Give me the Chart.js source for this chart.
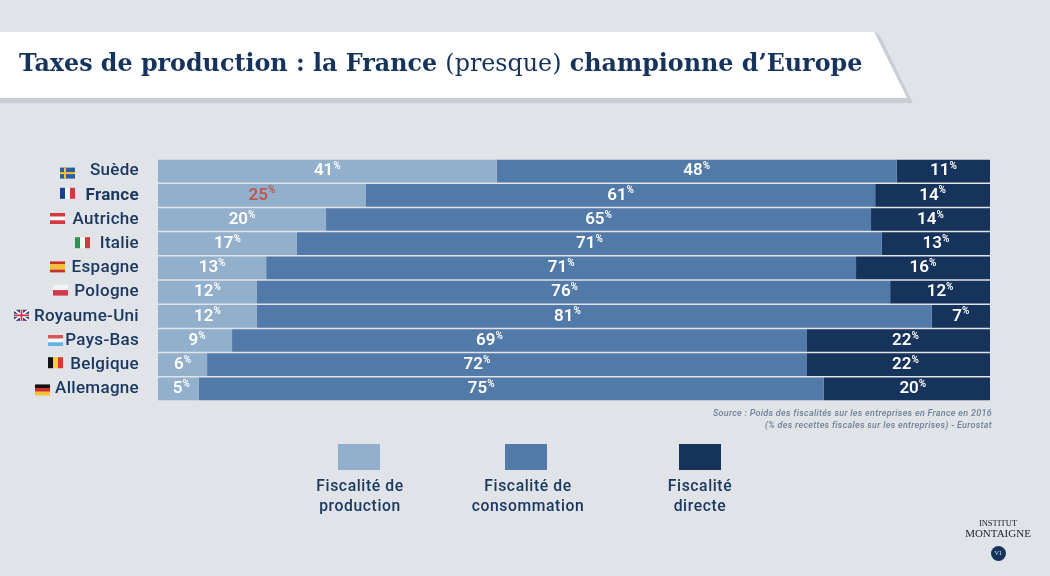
<!DOCTYPE html>
<html lang="fr">
<head>
<meta charset="utf-8">
<title>Taxes de production</title>
<script src="https://cdn.jsdelivr.net/npm/chart.js@4"></script>
<style>
  html, body { margin: 0; padding: 0; }
  body { width: 1050px; height: 576px; background: #e0e3e8; position: relative; overflow: hidden; font-family: Roboto, sans-serif; color: #1b3860; }
  canvas { position: absolute; left: 0; top: 0; }
  .bandeau, .ombre { position: absolute; left: 0; top: 0; width: 1050px; height: 110px; }
  .ombre { background: #c9ccd2; clip-path: polygon(0 98px, 907px 98px, 874px 31px, 880px 36px, 913px 103px, 0 103px); }
  .bandeau { background: #fff; clip-path: polygon(0 32px, 874px 32px, 907px 98px, 0 98px); }
  h1 { position: absolute; left: 19px; top: 45px; margin: 0; font: 700 23.8px/36px "DejaVu Serif", serif; color: #16335b; white-space: nowrap; }
  h1 span { font-weight: 400; }
  .source { position: absolute; right: 58px; top: 407px; font: italic 500 9px/12px Roboto, sans-serif; letter-spacing: .3px; color: #6d8097; text-align: right; }
  .leg { position: absolute; top: 444px; width: 160px; text-align: center; font: 500 15.7px/20px Roboto, sans-serif; letter-spacing: .6px; }
  .leg i { display: block; position: relative; width: 42px; height: 26px; margin: 0 auto 6px; }
  .logo { position: absolute; left: 958px; top: 518px; width: 80px; text-align: center; font-family: "Liberation Serif", serif; color: #22242a; }
  .logo div { line-height: 10px; }
  .logo .a { font-size: 8.5px; }
  .logo .b { font-size: 11px; }
  .logo .rond { width: 15px; height: 15px; line-height: 15px; border-radius: 50%; background: #16335b; color: #c9d3e0; font-size: 7px; margin: 8px auto 0; }
</style>
</head>
<body>
<canvas id="graph" width="1050" height="576"></canvas>
<div class="ombre"></div>
<div class="bandeau"></div>
<h1>Taxes de production : la France <span>(presque)</span> championne d’Europe</h1>
<div class="source">Source : Poids des fiscalités sur les entreprises en France en 2016<br>(% des recettes fiscales sur les entreprises) - Eurostat</div>
<div id="legende"></div>
<div class="logo"><div class="a">INSTITUT</div><div class="b">MONTAIGNE</div><div class="rond">VI</div></div>

<script>
const pays = ['Suède', 'France', 'Autriche', 'Italie', 'Espagne', 'Pologne', 'Royaume-Uni', 'Pays-Bas', 'Belgique', 'Allemagne'];

// largeurs
const production = [40.7, 25, 20.2, 16.7, 13, 11.9, 11.9, 8.9, 5.9, 4.9];
const consommation = [48.1, 61.2, 65.5, 70.3, 70.9, 76.1, 81.1, 69.1, 72.1, 75.1];
const directe = [11.2, 13.8, 14.3, 13, 16.1, 12, 7, 22, 22, 20];

// chiffres imprimés sur les barres
const txtProduction = [41, 25, 20, 17, 13, 12, 12, 9, 6, 5];
const txtConsommation = [48, 61, 65, 71, 71, 76, 81, 69, 72, 75];
const txtDirecte = [11, 14, 14, 13, 16, 12, 7, 22, 22, 20];

const nomsSeries = ['Fiscalité de<br>production', 'Fiscalité de<br>consommation', 'Fiscalité<br>directe'];
const couleurs = ['#92afcc', '#527aa8', '#16335b'];
const centresCarres = [359, 526, 700];
const centresTextes = [360, 528, 700];

const marine = '#1b3860';
const rouge = '#c0574e';

// dans l'original les chiffres ne sont pas tous centrés sur leur barre (px)
const decalages = [
    [0, 0, 0, 0, 0, 0, 0, 2, 0, 3],
    [0, 0, 0, 0, 0, -9, -27, -30, -30, -30],
    [0, 0, 0, 0, 0, 0, 0, 7, 7, 6]
];

// drapeaux : [bord gauche en px, écart au centre de la ligne, sens des bandes, couleurs]
const drapeaux = [
    [60, 2, 'se', ['#2a5f9e', '#f2c230']],
    [60, -2, 'v', ['#1d3f8f', '#f4f4f4', '#d8373f']],
    [50, -1, 'h', ['#d8373f', '#f8f8f8', '#d8373f']],
    [75, -1, 'v', ['#2f9150', '#f4f4f4', '#cf3b3b']],
    [50, -1, 'h', ['#c8302a', '#f1bf2c', '#f1bf2c', '#c8302a']],
    [53, -2, 'h', ['#f4f4f4', '#cf3b4b']],
    [14, -1, 'uk', ['#2c3f80', '#f4f4f4', '#cf3040']],
    [48, 0, 'h', ['#d8545a', '#f8f8f8', '#62b4e8']],
    [48, -2, 'v', ['#111111', '#f4cf30', '#d8373f']],
    [35, 1, 'h', ['#111111', '#d02c2c', '#f4c430']]
];

function dessinerDrapeau(ctx, x, y, d) {
    const w = 15, h = 11;
    const sens = d[2], c = d[3];
    if (sens === 'h') {
        c.forEach((col, i) => {
            ctx.fillStyle = col;
            ctx.fillRect(x, y + i * h / c.length, w, h / c.length);
        });
    } else if (sens === 'v') {
        c.forEach((col, i) => {
            ctx.fillStyle = col;
            ctx.fillRect(x + i * w / c.length, y, w / c.length, h);
        });
    } else if (sens === 'se') {
        ctx.fillStyle = c[0];
        ctx.fillRect(x, y, w, h);
        ctx.fillStyle = c[1];
        ctx.fillRect(x, y + 4.5, w, 2);
        ctx.fillRect(x + 4, y, 2, h);
    } else {
        ctx.fillStyle = c[0];
        ctx.fillRect(x, y, w, h);
        ctx.strokeStyle = c[1];
        ctx.lineWidth = 2;
        ctx.beginPath();
        ctx.moveTo(x, y); ctx.lineTo(x + w, y + h);
        ctx.moveTo(x + w, y); ctx.lineTo(x, y + h);
        ctx.stroke();
        ctx.fillStyle = c[1];
        ctx.fillRect(x, y + 4, w, 3);
        ctx.fillRect(x + 6, y, 3, h);
        ctx.fillStyle = c[2];
        ctx.fillRect(x, y + 4.7, w, 1.6);
        ctx.fillRect(x + 6.7, y, 1.6, h);
    }
}

const etiquettes = {
    id: 'etiquettes',
    // le canvas est remis à zéro par Chart.js, donc à régler ici
    beforeDraw(chart) {
        chart.ctx.letterSpacing = '0.3px';
    },
    afterDatasetsDraw(chart) {
        const ctx = chart.ctx;
        const textes = [txtProduction, txtConsommation, txtDirecte];
        ctx.save();
        ctx.textBaseline = 'middle';
        ctx.textAlign = 'left';
        ctx.letterSpacing = '0px';
        textes.forEach((serie, s) => {
            chart.getDatasetMeta(s).data.forEach((barre, i) => {
                const nombre = String(serie[i]);
                ctx.font = '600 17px Roboto';
                const l1 = ctx.measureText(nombre).width;
                ctx.font = '600 10px Roboto';
                const l2 = ctx.measureText('%').width;
                const x = (barre.x + barre.base) / 2 - (l1 + l2) / 2 + decalages[s][i];
                ctx.fillStyle = (s === 0 && i === 1) ? rouge : '#fff';
                ctx.font = '600 17px Roboto';
                ctx.fillText(nombre, x, barre.y);
                ctx.font = '600 10px Roboto';
                ctx.fillText('%', x + l1, barre.y - 4.5);
            });
        });
        drapeaux.forEach((d, i) => {
            const y = chart.scales.y.getPixelForValue(i);
            dessinerDrapeau(ctx, d[0], y - 5.5 + d[1], d);
        });
        ctx.restore();
    }
};

const ctx = document.getElementById('graph').getContext('2d');

new Chart(ctx, {
    type: 'bar',
    data: {
        labels: pays,
        datasets: [
            { label: 'Fiscalité de production', data: production, backgroundColor: couleurs[0] },
            { label: 'Fiscalité de consommation', data: consommation, backgroundColor: couleurs[1] },
            { label: 'Fiscalité directe', data: directe, backgroundColor: couleurs[2] }
        ]
    },
    options: {
        indexAxis: 'y',
        responsive: false,
        animation: false,
        barPercentage: 0.94,
        categoryPercentage: 1,
        layout: { padding: { left: 0, right: 60, top: 159, bottom: 175 } },
        scales: {
            x: { stacked: true, display: false, min: 0, max: 100 },
            y: {
                stacked: true,
                afterFit(scale) { scale.width = 158; },
                grid: { display: false, drawTicks: false },
                border: { display: false },
                ticks: {
                    padding: 19,
                    color: marine,
                    font: ctx => ({ family: 'Roboto', size: 17, weight: ctx.index === 1 ? '700' : '500' })
                }
            }
        },
        plugins: { legend: { display: false }, title: { display: false }, tooltip: { enabled: false } }
    },
    plugins: [etiquettes]
});

document.getElementById('legende').innerHTML = nomsSeries.map((nom, i) =>
    `<div class="leg" style="left:${centresTextes[i] - 80}px"><i style="left:${centresCarres[i] - centresTextes[i]}px;background:${couleurs[i]}"></i>${nom}</div>`
).join('');
</script>
</body>
</html>
